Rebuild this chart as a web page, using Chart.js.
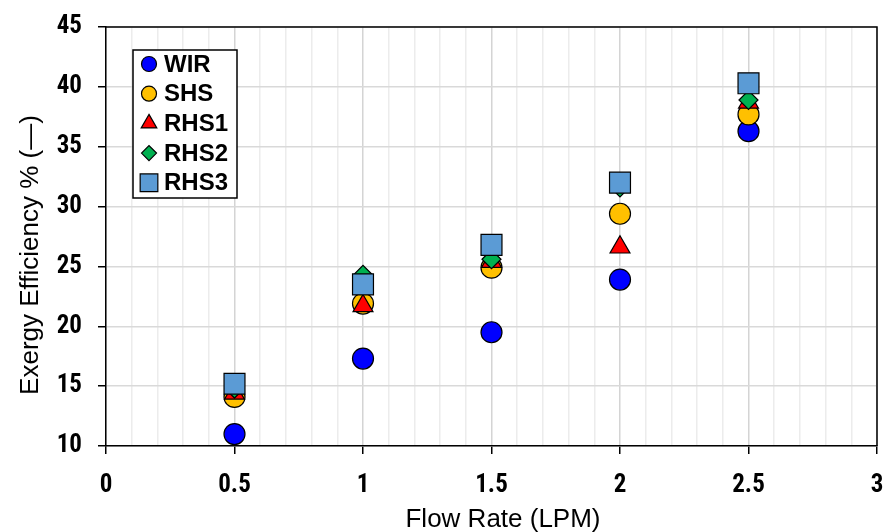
<!DOCTYPE html>
<html>
<head>
<meta charset="utf-8">
<script src="https://cdn.jsdelivr.net/npm/chart.js@4.4.1/dist/chart.umd.min.js"></script>
<style>
  html, body { margin: 0; padding: 0; background: #fff; }
  #wrap { width: 886px; height: 532px; }
</style>
</head>
<body>
<div id="wrap"><canvas id="chart" width="886" height="532"></canvas></div>
<script>
        const NARROW = "'Roboto Condensed', 'Liberation Sans Narrow', Roboto, sans-serif";
        const WIDE = "'Liberation Sans', Arial, sans-serif";

        const flowRates = [0.5, 1, 1.5, 2, 2.5];
        const seriesNames = ['WIR', 'SHS', 'RHS1', 'RHS2', 'RHS3'];
        const wir  = [11.0, 17.3, 19.5, 23.9, 36.3];
        const shs  = [14.1, 21.9, 24.9, 29.4, 37.7];
        const rhs1 = [14.4, 21.7, 25.4, 26.6, 38.7];
        const rhs2 = [14.8, 24.3, 25.6, 31.6, 38.9];
        const rhs3 = [15.2, 23.5, 26.8, 32.0, 40.3];
        const yTicks = [10, 15, 20, 25, 30, 35, 40, 45];
        const xTicks = [0, 0.5, 1, 1.5, 2, 2.5, 3];
        const xTitle = 'Flow Rate (LPM)';
        const yTitle = 'Exergy Efficiency % (—)';

        const markers = [
            { values: wir,  color: '#0000ff', style: 'circle',   radius: 10.5, legendRadius: 7.5 },
            { values: shs,  color: '#ffc000', style: 'circle',   radius: 10.5, legendRadius: 7.5 },
            { values: rhs1, color: '#ff0000', style: 'triangle', radius: 11.5, legendRadius: 9 },
            { values: rhs2, color: '#00b050', style: 'rectRot',  radius: 9.5,  legendRadius: 7.5 },
            { values: rhs3, color: '#5b9bd5', style: 'rect',     radius: 14.8, legendRadius: 12.5 }
        ];

        function isMajorX(v) {
            return Math.abs(v * 2 - Math.round(v * 2)) < 1e-6;
        }

        // frame on top/right, axis titles and the boxed legend
        const framePlugin = {
            id: 'frame',
            beforeDatasetsDraw(chart) {
                const { ctx, chartArea: a } = chart;
                ctx.save();
                ctx.strokeStyle = '#000';
                ctx.lineWidth = 1.5;
                ctx.beginPath();
                ctx.moveTo(a.left, a.top);
                ctx.lineTo(a.right, a.top);
                ctx.lineTo(a.right, a.bottom);
                ctx.stroke();
                ctx.restore();
            },
            afterDraw(chart) {
                const { ctx } = chart;
                ctx.save();
                ctx.fillStyle = '#000';
                ctx.font = '26px ' + WIDE;
                ctx.textAlign = 'center';
                ctx.textBaseline = 'alphabetic';
                ctx.fillText(xTitle, 503, 527);
                ctx.translate(38, 255);
                ctx.rotate(-Math.PI / 2);
                ctx.fillText(yTitle, 0, 0);
                ctx.restore();

                const box = { x: 133, y: 50, w: 104, h: 148 };
                ctx.save();
                ctx.fillStyle = '#fff';
                ctx.fillRect(box.x, box.y, box.w, box.h);
                ctx.strokeStyle = '#000';
                ctx.lineWidth = 1.5;
                ctx.strokeRect(box.x, box.y, box.w, box.h);
                ctx.font = 'bold 24px ' + WIDE;
                ctx.textBaseline = 'middle';
                chart.data.datasets.forEach((ds, i) => {
                    const cy = 64 + i * 29.7;
                    ctx.fillStyle = ds.pointBackgroundColor;
                    ctx.strokeStyle = '#000';
                    ctx.lineWidth = 1.2;
                    Chart.helpers.drawPoint(ctx, { pointStyle: ds.pointStyle, radius: markers[i].legendRadius, rotation: 0, borderWidth: 1.2 }, 149, cy);
                    ctx.fillStyle = '#000';
                    ctx.fillText(ds.label, 164, cy + 1);
                });
                ctx.restore();
            }
        };

        const datasets = markers.map((m, i) => ({
            label: seriesNames[i],
            data: flowRates.map((x, j) => ({ x: x, y: m.values[j] })),
            pointStyle: m.style,
            pointRadius: m.radius,
            pointHoverRadius: m.radius,
            pointBackgroundColor: m.color,
            pointBorderColor: '#000',
            pointBorderWidth: 1.2,
            showLine: false,
            order: markers.length - i
        }));

        new Chart(document.getElementById('chart'), {
            type: 'scatter',
            data: { datasets: datasets },
            plugins: [framePlugin],
            options: {
                responsive: false,
                animation: false,
                layout: {
                    autoPadding: false,
                    padding: { left: 0, right: 9, top: 27, bottom: 0 }
                },
                plugins: {
                    legend: { display: false },
                    tooltip: { enabled: false }
                },
                scales: {
                    x: {
                        type: 'linear',
                        min: 0,
                        max: 3,
                        afterFit: s => {
                            s.height = 86;
                            s.paddingLeft = 0;
                            s.paddingRight = 0;
                        },
                        afterBuildTicks: s => {
                            const t = [];
                            for (let k = 0; k <= 30; k++) t.push({ value: k / 10 });
                            s.ticks = t;
                        },
                        ticks: {
                            autoSkip: false,
                            maxRotation: 0,
                            padding: 17,
                            color: '#000',
                            font: { family: NARROW, size: 25, weight: 'bold' },
                            callback: v => isMajorX(v) ? xTicks.find(t => Math.abs(t - v) < 1e-6).toString() : ''
                        },
                        grid: {
                            color: c => isMajorX(c.tick.value) ? '#d4d4d4' : '#ececec',
                            lineWidth: 1.5,
                            tickLength: 8,
                            tickColor: c => isMajorX(c.tick.value) ? '#000' : 'rgba(0,0,0,0)',
                            tickWidth: 1.5
                        },
                        border: { color: '#000', width: 1.5 }
                    },
                    y: {
                        min: 10,
                        max: 45,
                        afterFit: s => {
                            s.width = 106;
                            s.paddingTop = 0;
                            s.paddingBottom = 0;
                        },
                        afterBuildTicks: s => { s.ticks = yTicks.map(v => ({ value: v })); },
                        ticks: {
                            padding: 16,
                            color: '#000',
                            font: { family: NARROW, size: 25, weight: 'bold' }
                        },
                        grid: {
                            color: '#d9d9d9',
                            lineWidth: 1.5,
                            tickLength: 8,
                            tickColor: '#000',
                            tickWidth: 1.5
                        },
                        border: { color: '#000', width: 1.5 }
                    }
                }
            }
        });
</script>
</body>
</html>
